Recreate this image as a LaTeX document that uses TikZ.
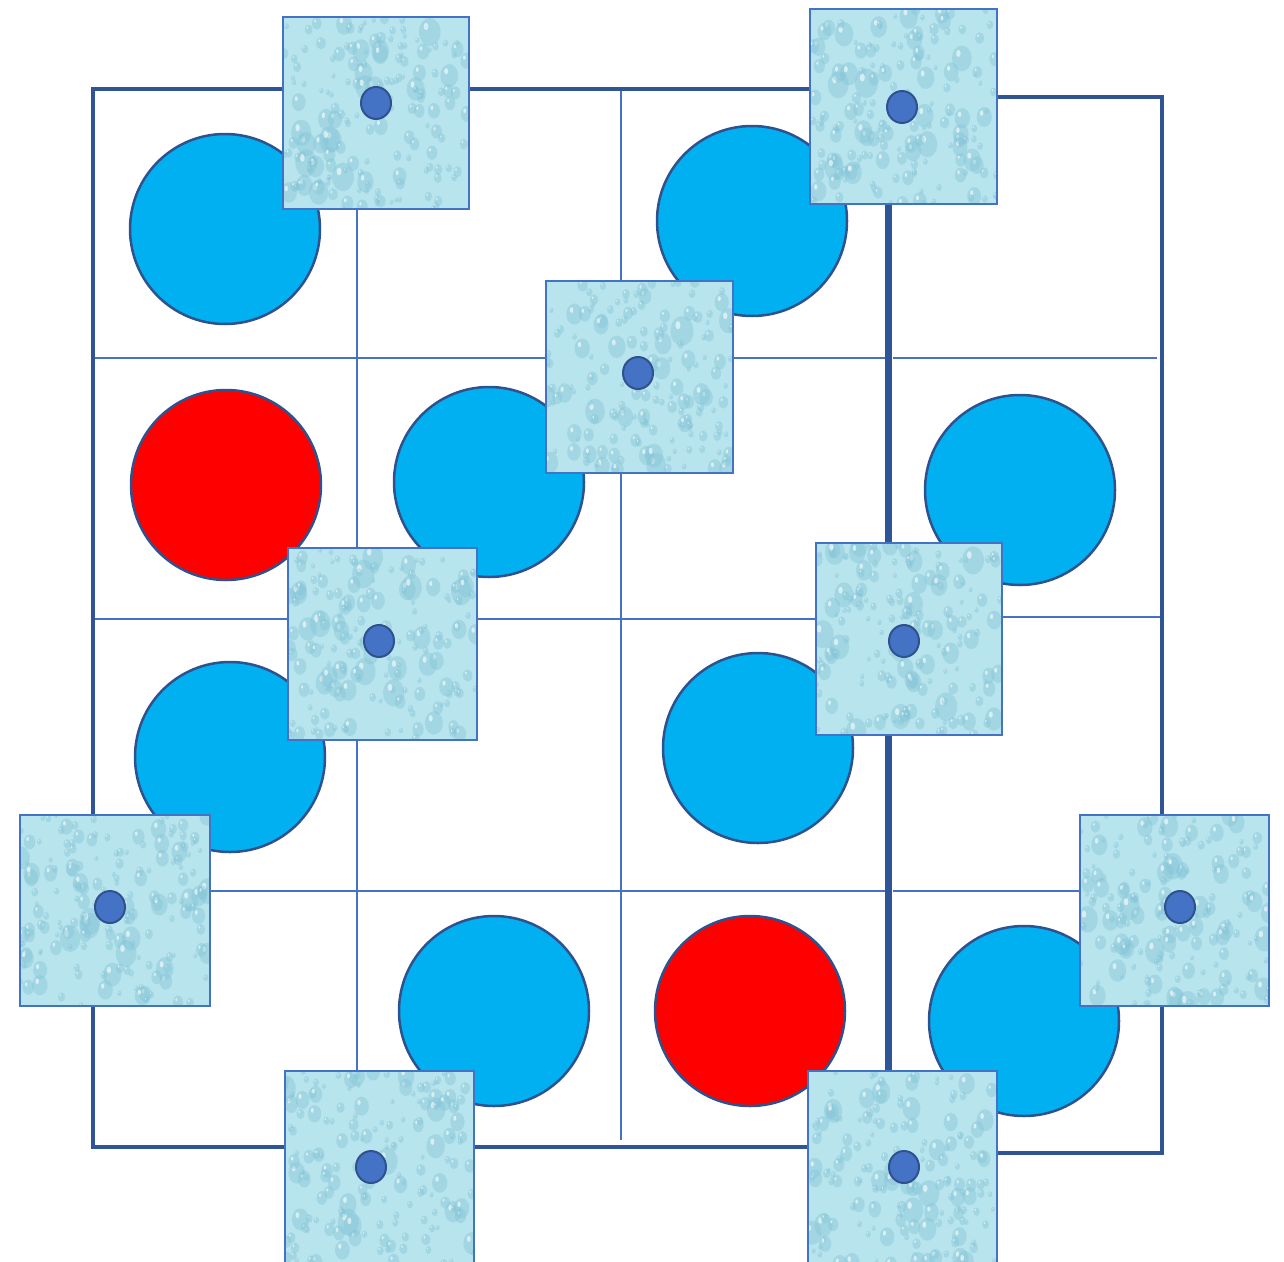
\documentclass[tikz,border=0pt]{standalone}
\usetikzlibrary{shapes.geometric}
\definecolor{gridc}{HTML}{4472C4}
\definecolor{framec}{HTML}{2F5597}
\definecolor{cblue}{HTML}{00B0F0}
\definecolor{cedge}{HTML}{2F528F}
\definecolor{cred}{HTML}{FF0000}
\definecolor{water}{RGB}{184,228,237}
\definecolor{drop}{RGB}{130,195,214}
\tikzset{
  framel/.style={draw=framec,line width=3.2pt},
  gridl/.style={draw=gridc,line width=2.8pt},
  bcirc/.style={circle,fill=cblue,draw=cedge,line width=2.5pt,minimum size=190pt,inner sep=0pt},
  rcirc/.style={bcirc,fill=cred},
  sqedge/.style={draw=gridc,line width=2.8pt},
  dotnode/.style={ellipse,fill=gridc,draw=cedge,line width=2pt,minimum width=30pt,minimum height=32pt,inner sep=0pt},
}
\newcommand\wtile[7]{%
  \begin{scope}
    \clip (#1,#2) rectangle (#3,#4);
    \fill[water] (#1,#2) rectangle (#3,#4);
    \foreach \i in {1,...,170}{%
      \pgfmathsetmacro\px{#1+rnd*(#3-#1)}%
      \pgfmathsetmacro\py{#2+rnd*(#4-#2)}%
      \pgfmathsetmacro\rr{2+rnd*rnd*10}%
      \fill[drop,opacity=0.4] (\px,\py) ellipse[x radius=\rr, y radius=1.3*\rr];
      \fill[white,opacity=0.6] (\px-0.35*\rr,\py-0.5*\rr) ellipse[x radius=0.22*\rr, y radius=0.35*\rr];
    }
  \end{scope}
  \draw[sqedge] (#1,#2) rectangle (#3,#4);
  \node[dotnode] (#7) at (#5,#6) {};
}
\begin{document}
\begin{tikzpicture}[x=1pt,y=-1pt]
\pgfmathsetseed{7}
\useasboundingbox (0,0) rectangle (1284,1261);
% grid lines
\draw[gridl] (357,89) -- (357,1147);
\draw[gridl] (621,89) -- (621,1140);
\draw[gridl] (93,358) -- (886,358);
\draw[gridl] (893,358) -- (1157,358);
\draw[gridl] (93,619) -- (886,619);
\draw[gridl] (890,617) -- (1162,617);
\draw[gridl] (93,891) -- (886,891);
\draw[gridl] (893,891) -- (1162,891);
% frames
\draw[framel] (93,89) rectangle (887,1147);
\draw[framel] (890,97) rectangle (1162,1153);
% circles
\node[bcirc] (c1) at (225,229) {};
\node[bcirc] (c2) at (752,221) {};
\node[rcirc] (c3) at (226,485) {};
\node[bcirc] (c4) at (489,482) {};
\node[bcirc] (c5) at (1020,490) {};
\node[bcirc] (c6) at (230,757) {};
\node[bcirc] (c7) at (758,748) {};
\node[bcirc] (c8) at (494,1011) {};
\node[rcirc] (c9) at (750,1011) {};
\node[bcirc] (c10) at (1024,1021) {};
% water tiles
\wtile{283}{17}{469}{209}{376}{103}{s1}
\wtile{810}{9}{997}{204}{902}{107}{s2}
\wtile{546}{281}{733}{473}{638}{373}{s3}
\wtile{288}{548}{477}{740}{379}{641}{s4}
\wtile{816}{543}{1002}{735}{904}{641}{s5}
\wtile{20}{815}{210}{1006}{110}{907}{s6}
\wtile{1080}{815}{1269}{1006}{1180}{907}{s7}
\wtile{285}{1071}{474}{1275}{371}{1167}{s8}
\wtile{808}{1071}{997}{1275}{904}{1167}{s9}
\end{tikzpicture}
\end{document}
